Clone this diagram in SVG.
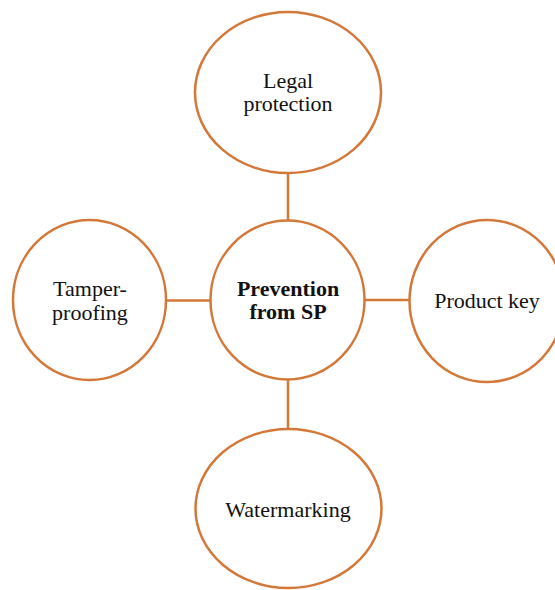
<svg xmlns="http://www.w3.org/2000/svg" width="555" height="590" viewBox="0 0 555 590">
<style>
.n{fill:#fff;stroke:#D4783A;stroke-width:2.5}
.c{stroke:#D4783A;stroke-width:2.5;fill:none}
text{font-family:"Liberation Serif","Times New Roman",serif;font-size:22px;fill:#111;text-anchor:middle}
.b{font-weight:bold}
</style>
<rect width="555" height="590" fill="#fff"/>
<g id="connectors">
<line class="c" x1="288" y1="173" x2="288" y2="221"/>
<line class="c" x1="166" y1="300.5" x2="211" y2="300.5"/>
<line class="c" x1="364" y1="300" x2="410" y2="300"/>
<line class="c" x1="288" y1="379" x2="288" y2="429"/>
</g>
<g id="legal">
<ellipse class="n" cx="288" cy="92.5" rx="93" ry="80.5"/>
<text x="288" y="88">Legal</text>
<text x="288" y="111">protection</text>
</g>
<g id="center">
<ellipse class="n" cx="287.5" cy="300" rx="77" ry="79.5"/>
<text class="b" x="288" y="296">Prevention</text>
<text class="b" x="288" y="319">from SP</text>
</g>
<g id="tamper">
<ellipse class="n" cx="89.5" cy="300" rx="76.5" ry="80"/>
<text x="90" y="296">Tamper-</text>
<text x="90" y="320">proofing</text>
</g>
<g id="product">
<ellipse class="n" cx="487" cy="301" rx="77.5" ry="81"/>
<text x="487" y="308">Product key</text>
</g>
<g id="watermarking">
<ellipse class="n" cx="288.5" cy="508.5" rx="93" ry="79.5"/>
<text x="288" y="517">Watermarking</text>
</g>
</svg>
